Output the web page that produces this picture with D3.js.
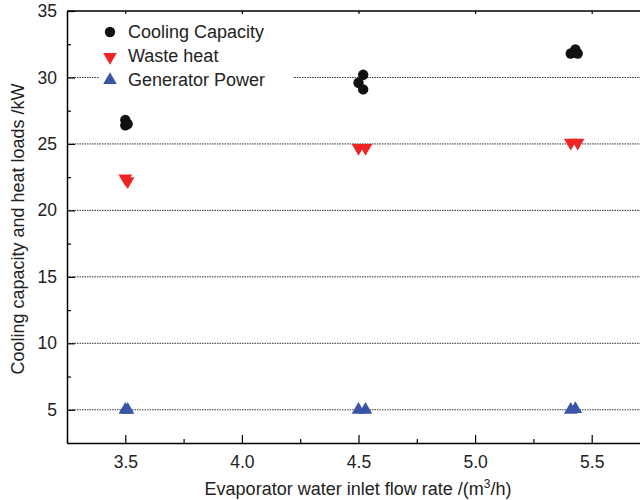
<!DOCTYPE html>
<html><head><meta charset="utf-8">
<script src="https://cdn.jsdelivr.net/npm/d3@7"></script>
<style>body{margin:0;background:#fff}svg{display:block}</style>
</head><body><div id="chart"></div>
<script>
const xTicks = [3.5, 4.0, 4.5, 5.0, 5.5];
const yTicks = [5, 10, 15, 20, 25, 30, 35];
const coolingX = [3.50, 3.51, 3.50, 4.50, 4.52, 4.52, 5.41, 5.43, 5.44];
const coolingY = [26.8, 26.5, 26.4, 29.6, 30.2, 29.1, 31.8, 32.1, 31.8];
const wasteX = [3.50, 3.51, 4.50, 4.53, 5.41, 5.44];
const wasteY = [22.4, 22.2, 24.7, 24.7, 25.1, 25.1];
const genX = [3.50, 3.51, 4.50, 4.53, 5.41, 5.43];
const genY = [5.0, 5.0, 5.0, 5.0, 5.0, 5.05];
const legendLabels = ["Cooling Capacity", "Waste heat", "Generator Power"];

const W = 640, H = 500;
const m = {left: 67, top: 11, right: 650, bottom: 443};
const FONT = "'Liberation Sans', Arial, Helvetica, sans-serif";
const svg = d3.select("#chart").append("svg").attr("width", W).attr("height", H)
  .style("font-family", FONT);
const x = d3.scaleLinear().domain([3.25, 5.75]).range([m.left, m.right]);
const y = d3.scaleLinear().domain([2.5, 35]).range([m.bottom, m.top]);

// gridlines
svg.append("g").selectAll("line").data(yTicks.filter(d => d < 35)).join("line")
  .attr("x1", m.left).attr("x2", m.right).attr("y1", d => y(d)).attr("y2", d => y(d))
  .attr("stroke", "#333").attr("stroke-width", 1).attr("stroke-dasharray", "1.5,1");

// legend background
svg.append("rect").attr("x", 99).attr("y", 18).attr("width", 194).attr("height", 74).attr("fill", "#fff");

// axes
const xAxis = d3.axisBottom(x).tickValues(xTicks).tickFormat(d3.format(".1f")).tickSizeInner(-8).tickSizeOuter(0).tickPadding(13);
svg.append("g").attr("transform", `translate(0,${m.bottom})`).call(xAxis);
const xMinor = d3.axisBottom(x).tickValues([3.25, 3.75, 4.25, 4.75, 5.25]).tickFormat("").tickSizeInner(-4).tickSizeOuter(0);
svg.append("g").attr("transform", `translate(0,${m.bottom})`).call(xMinor).select(".domain").remove();
const yAxis = d3.axisLeft(y).tickValues(yTicks).tickSizeInner(-8).tickSizeOuter(0).tickPadding(10);
svg.append("g").attr("transform", `translate(${m.left},0)`).call(yAxis);
const yMinor = d3.axisLeft(y).tickValues([7.5, 12.5, 17.5, 22.5, 27.5, 32.5]).tickFormat("").tickSizeInner(-4).tickSizeOuter(0);
svg.append("g").attr("transform", `translate(${m.left},0)`).call(yMinor).select(".domain").remove();
// top border
svg.append("line").attr("x1", m.left).attr("x2", m.right).attr("y1", m.top).attr("y2", m.top).attr("stroke", "#000").attr("stroke-width", 1.5);
const xTop = d3.axisTop(x).tickValues(xTicks).tickFormat("").tickSizeInner(-3).tickSizeOuter(0);
svg.append("g").attr("transform", `translate(0,${m.top})`).call(xTop).select(".domain").remove();

svg.selectAll(".domain").attr("stroke", "#000").attr("stroke-width", 1.5);
svg.selectAll(".tick line").attr("stroke", "#000").attr("stroke-width", 1.2);
svg.selectAll(".tick text").attr("font-size", 17.5).attr("fill", "#222").attr("font-family", FONT);

// data
const tri = d3.symbol().type(d3.symbolTriangle).size(80);
svg.append("g").selectAll("path").data(wasteX.map((d, i) => [d, wasteY[i]])).join("path")
  .attr("d", tri).attr("fill", "#ee2424")
  .attr("transform", d => `translate(${x(d[0])},${y(d[1])}) rotate(180)`);
svg.append("g").selectAll("path").data(genX.map((d, i) => [d, genY[i]])).join("path")
  .attr("d", tri).attr("fill", "#3a55a8")
  .attr("transform", d => `translate(${x(d[0])},${y(d[1])})`);
svg.append("g").selectAll("circle").data(coolingX.map((d, i) => [d, coolingY[i]])).join("circle")
  .attr("cx", d => x(d[0])).attr("cy", d => y(d[1])).attr("r", 5.2).attr("fill", "#111");

// legend
const lg = svg.append("g");
const ly = [32, 56, 80];
lg.append("circle").attr("cx", 110).attr("cy", ly[0]).attr("r", 5.2).attr("fill", "#111");
lg.append("path").attr("d", tri).attr("fill", "#ee2424").attr("transform", `translate(110,${ly[1] + 1}) rotate(180)`);
lg.append("path").attr("d", tri).attr("fill", "#3a55a8").attr("transform", `translate(110,${ly[2]})`);
lg.selectAll("text").data(legendLabels).join("text")
  .attr("x", 128).attr("y", (d, i) => ly[i] + 6).attr("font-size", 18).attr("fill", "#222").text(d => d);

// axis titles
const xt = svg.append("text").attr("x", 358).attr("y", 495).attr("text-anchor", "middle")
  .attr("font-size", 18).attr("fill", "#222");
xt.append("tspan").text("Evaporator water inlet flow rate /(m");
xt.append("tspan").attr("font-size", 12).attr("dy", -7).text("3");
xt.append("tspan").attr("dy", 7).text("/h)");
svg.append("text").attr("transform", `translate(24,${229}) rotate(-90)`)
  .attr("text-anchor", "middle").attr("font-size", 18).attr("fill", "#222")
  .text("Cooling capacity and heat loads /kW");
</script></body></html>
